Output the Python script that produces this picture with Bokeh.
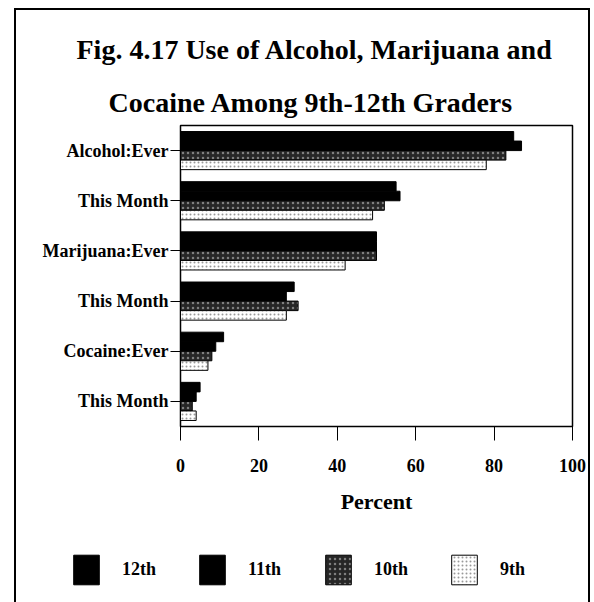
from bokeh.plotting import figure
from bokeh.layouts import column
from bokeh.models import (Range1d, FixedTicker, Title, Legend, LegendItem,
                          ColumnDataSource)
from bokeh.embed import file_html
from bokeh.resources import INLINE

categories = ["Alcohol:Ever", "This Month", "Marijuana:Ever", "This Month",
              "Cocaine:Ever", "This Month"]
series = ["12th", "11th", "10th", "9th"]
grade_12 = [85, 55, 50, 29, 11, 5]
grade_11 = [87, 56, 50, 27, 9, 4]
grade_10 = [83, 52, 50, 30, 8, 3]
grade_9 = [78, 49, 42, 27, 7, 4]
x_ticks = [0, 20, 40, 60, 80, 100]

SERIF = "Liberation Serif"
W, H_MAIN, H_LEG = 594, 520, 82

p = figure(width=W, height=H_MAIN, output_backend="svg", toolbar_location=None,
           x_range=Range1d(0, 100), y_range=Range1d(len(categories) - 0.5, -0.5),
           min_border_left=180, min_border_right=22, min_border_top=125,
           min_border_bottom=94)
p.title.visible = False
p.grid.visible = False
p.background_fill_color = "white"
p.border_fill_color = None
p.outline_line_color = "black"
p.outline_line_width = 1.5

values = [grade_12, grade_11, grade_10, grade_9]
offsets = [-0.285, -0.095, 0.095, 0.285]
styles = [
    dict(fill_color="black"),
    dict(fill_color="black"),
    dict(fill_color="#262626", hatch_pattern="dot", hatch_color="#808080", hatch_scale=5),
    dict(fill_color="white", hatch_pattern="dot", hatch_color="#999999", hatch_scale=4),
]
sources = []
for name, vals, off, st in zip(series, values, offsets, styles):
    src = ColumnDataSource(dict(y=[i + off for i in range(len(categories))], x=vals))
    sources.append(src)
    p.hbar(y="y", right="x", left=0, height=0.19, source=src,
           line_color="black", line_width=1, **st)

# axes
xa = p.xaxis[0]
xa.ticker = FixedTicker(ticks=x_ticks)
xa.minor_tick_line_color = None
xa.major_tick_in = 0
xa.major_tick_out = 14
xa.major_tick_line_color = "black"
xa.axis_line_color = "black"
xa.major_label_text_font = SERIF
xa.major_label_text_font_style = "bold"
xa.major_label_text_font_size = "18px"
xa.major_label_text_color = "black"
xa.major_label_standoff = 18
xa.axis_label = "Percent"
xa.axis_label_text_font = SERIF
xa.axis_label_text_font_style = "bold"
xa.axis_label_text_font_size = "22px"
xa.axis_label_text_color = "black"
xa.axis_label_standoff = 14

ya = p.yaxis[0]
ya.ticker = FixedTicker(ticks=list(range(len(categories))))
ya.major_label_overrides = {i: c for i, c in enumerate(categories)}
ya.minor_tick_line_color = None
ya.major_tick_in = 0
ya.major_tick_out = 10
ya.major_tick_line_color = "black"
ya.axis_line_color = "black"
ya.major_label_text_font = SERIF
ya.major_label_text_font_style = "bold"
ya.major_label_text_font_size = "18px"
ya.major_label_text_color = "black"
ya.major_label_standoff = 2

# title lines
t2 = Title(text="Cocaine Among 9th-12th Graders", align="left", offset=-72,
           text_font=SERIF, text_font_style="bold", text_font_size="28px",
           text_color="black", standoff=15)
t1 = Title(text="Fig. 4.17 Use of Alcohol, Marijuana and", align="left", offset=-104,
           text_font=SERIF, text_font_style="bold", text_font_size="28px",
           text_color="black", standoff=25)
p.add_layout(t2, "above")
p.add_layout(t1, "above")

# legend strip (pixel-unit ranges)
q = figure(width=W, height=H_LEG, output_backend="svg", toolbar_location=None,
           x_range=Range1d(0, W), y_range=Range1d(0, H_LEG),
           x_axis_type=None, y_axis_type=None,
           min_border_left=0, min_border_right=0, min_border_top=0, min_border_bottom=0)
q.title.visible = False
q.grid.visible = False
q.outline_line_color = None
q.background_fill_color = None
q.border_fill_color = None

for f in (p, q):
    if "frame_align" in f.properties():
        f.frame_align = False

swatches = []
for src, st in zip(sources, styles):
    swatches.append(q.hbar(y="y", right="x", left=0, height=0.19, source=src,
                           line_color="black", line_width=1, visible=False, **st))
legend = Legend(items=[LegendItem(label=s, renderers=[r]) for s, r in zip(series, swatches)],
                orientation="horizontal", location=(70, 14),
                glyph_width=32, glyph_height=37, label_standoff=20, label_width=67,
                spacing=7, padding=0, margin=0, border_line_alpha=0,
                background_fill_alpha=0, inactive_fill_alpha=0,
                label_text_font=SERIF,
                label_text_font_style="bold", label_text_font_size="18px",
                label_text_color="black")
q.add_layout(legend, "center")

page = column(p, q, spacing=0)
page.styles = {
    "background-color": "white",
    "background-image": "linear-gradient(#000,#000), linear-gradient(#000,#000), linear-gradient(#000,#000)",
    "background-size": "2px 620px, 576px 2px, 2px 620px",
    "background-position": "14px 8px, 14px 8px, 588px 8px",
    "background-repeat": "no-repeat",
}

open("out.html", "w").write(file_html(page, INLINE))
